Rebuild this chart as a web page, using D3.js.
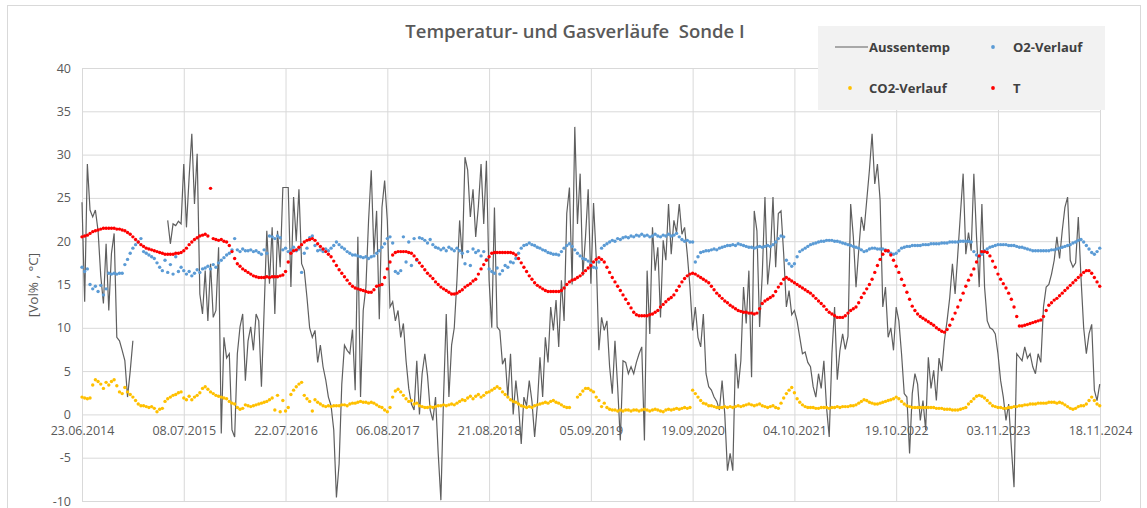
<!DOCTYPE html>
<html>
<head>
<meta charset="utf-8">
<script src="https://cdn.jsdelivr.net/npm/d3@7"></script>
<style>
body { margin: 0; background: #fff; }
text { font-family: "Open Sans", "Noto Sans", sans-serif; }
</style>
</head>
<body>
<svg width="1147" height="508"></svg>
<script>
// readings every 10 days from the first label date
var startLabel = "23.06.2014";
var stepDays = 10;

var tickLabels = ["23.06.2014", "08.07.2015", "22.07.2016", "06.08.2017", "21.08.2018", "05.09.2019",
    "19.09.2020", "04.10.2021", "19.10.2022", "03.11.2023", "18.11.2024"];
var yTicks = [-10, -5, 0, 5, 10, 15, 20, 25, 30, 35, 40];

var aussentemp = [
    24.5, 13.0, 28.9, 23.6, 22.8, 23.6, 21.2, 16.0, 12.8, 19.7, 12.0, 18.6, 20.9, 8.9, 8.5, 7.4, 6.2, 2.0, 5.0, 8.5,
    null, null, null, null, null, null, null, null, null, null, null, null, 22.4, 19.7, 22.0, 21.8, 22.3, 22.0,
    28.9, 21.6, 27.4, 32.4, 24.3, 30.1, 13.9, 11.6, 16.6, 10.8, 17.4, 11.2, 12.0, 19.3, -2.2, 8.9, 6.5, 7.0, -1.8,
    -2.6, 7.0, 10.1, 11.6, 3.9, 8.5, 10.1, 7.4, 11.6, 10.8, 3.2, 12.0, 21.2, 15.1, 21.6, 11.6, 21.2, 17.0, 26.2,
    26.2, 26.2, 14.7, 25.1, 20.0, 26.0, 17.4, 16.6, 13.5, 10.0, 8.9, 9.7, 6.0, 8.0, 5.5, 4.0, 2.0, 1.0, -1.8,
    -9.6, -5.7, 3.5, 8.0, 7.4, 7.0, 9.8, 2.8, 20.5, 2.0, 12.0, 14.7, 22.4, 28.2, 18.5, 23.5, 11.0, 23.9, 27.0,
    22.4, 12.4, 13.0, 10.8, 12.0, 8.9, 10.5, 6.2, 3.0, 1.2, 0.5, 6.2, 0.0, 4.7, 7.0, 4.5, 0.5, -0.7, 2.0,
    -4.5, -9.9, 2.0, 11.6, 2.0, 8.0, 10.0, 15.5, 22.4, 18.0, 29.7, 28.2, 22.8, 26.0, 20.5, 24.0, 28.9, 22.0, 29.3,
    15.5, 10.0, 23.9, 10.1, 9.7, 5.8, 6.5, 2.0, 7.0, 0.0, 3.9, 1.0, -3.4, 2.0, 1.0, 3.9, 1.5, -2.6, 1.0,
    6.6, 2.0, 8.9, 6.0, 12.4, 9.7, 13.2, 7.8, 15.5, 10.8, 23.2, 26.2, 15.0, 33.2, 22.0, 27.8, 16.0, 20.5, 26.0,
    15.1, 24.4, 18.1, 7.4, 11.2, 9.7, 10.8, 5.5, 2.4, 8.5, 3.2, -3.0, 6.2, 6.0, 4.7, 5.5, 4.7, 6.0, 7.0,
    7.8, -3.0, 16.6, 9.3, 21.6, 16.6, 19.3, 11.2, 20.1, 17.8, 24.3, 18.5, 22.4, 21.0, 24.3, 20.8, 21.6, 18.5, 14.7,
    9.7, 12.4, 8.9, 7.8, 11.6, 4.7, 3.2, 2.8, 2.0, 1.5, 0.5, 3.9, 0.0, -6.5, -4.5, -6.5, 7.0, 3.0, 6.2,
    14.7, 10.5, 16.6, 4.3, 23.5, 21.2, 10.1, 16.2, 25.1, 15.0, 18.2, 25.1, 17.0, 23.2, 23.5, 18.5, 12.4, 14.3, 11.5,
    12.0, 10.8, 8.9, 7.0, 7.2, 6.0, 5.5, 3.2, 2.0, 4.7, 3.0, 6.2, 0.8, -2.6, 7.0, 12.4, 4.0, 7.4, 9.3,
    7.5, 9.0, 24.3, 20.5, 14.7, 18.9, 22.8, 21.2, 24.7, 28.2, 32.4, 26.6, 28.9, 24.7, 12.4, 14.7, 8.9, 10.0, 7.4,
    12.4, 10.8, 7.0, 2.4, 2.0, -4.5, 2.4, 4.7, 3.5, -0.7, 1.6, -1.8, 6.6, 3.0, 5.1, 1.6, 6.5, 5.0, 8.5,
    10.8, 13.5, 17.4, 13.9, 18.5, 23.2, 27.8, 18.5, 21.0, 18.9, 27.8, 20.5, 14.7, 24.3, 14.7, 10.8, 10.0, 9.8, 9.3,
    7.0, 3.9, 2.0, -0.7, 1.2, -3.8, -8.4, 7.0, 6.6, 6.2, 7.8, 6.5, 7.0, 5.5, 4.7, 7.0, 6.0, 12.4, 14.7, 15.0,
    16.2, 17.8, 20.5, 18.0, 21.2, 23.9, 25.1, 17.8, 17.0, 17.5, 22.8, 15.8, 10.0, 7.0, 9.3, 10.4, 2.8, 1.6, 3.5
];

var o2 = [
    17.0, 16.5, 16.8, 15.0, 14.5, 14.8, 14.2, 14.9, 13.8, 14.5, 16.3, 16.2, 16.3, 16.2, 16.3, 16.3, 17.3, 17.9, 18.6,
    19.2, 19.6, 19.9, 20.3, 18.8, 18.6, 18.4, 18.2, 18.0, 17.5, 17.0, 16.6, 17.8, 16.4, 17.3, 16.2, 18.2, 16.5, 17.0,
    16.6, 16.2, 16.5, 16.0, 16.3, 16.7, 16.4, 16.8, 16.9, 17.1, 16.8, 17.3, 17.0, 17.5, 17.8, 18.1, 18.4, 18.6, 19.0,
    20.3, 19.0, 18.8, 19.1, 18.9, 18.9, 19.0, 18.8, 18.9, 18.7, 18.5, 19.0, 18.6, 20.6, 20.5, 20.3, 20.6, 20.4, 19.0,
    19.2, 18.8, 19.0, 19.3, 18.9, 19.1, 16.4, 18.6, 19.2, 20.4, 20.6, 19.5, 18.9, 19.0, 18.8, 19.1, 18.9, 19.2, 19.5,
    19.9, 19.6, 19.3, 19.1, 18.8, 18.6, 18.4, 18.4, 18.3, 18.2, 18.1, 18.2, 18.0, 18.2, 18.3, 18.6, 18.9, 19.3, 19.7,
    20.3, 20.5, 19.8, 16.5, 16.3, 16.6, 20.5, 17.6, 19.9, 17.2, 20.3, 17.8, 20.4, 20.3, 20.1, 19.8, 20.2, 19.6, 19.3,
    19.2, 19.0, 19.2, 18.9, 19.3, 19.1, 18.9, 19.2, 18.9, 18.6, 17.4, 18.8, 17.2, 19.1, 18.7, 18.9, 18.3, 18.8, 17.9,
    16.8, 16.5, 16.3, 16.9, 16.2, 16.6, 17.2, 17.0, 17.6, 17.5, 18.0, 18.6, 19.2, 19.5, 19.6, 19.8, 19.6, 19.5, 19.3,
    19.2, 19.0, 18.9, 18.7, 18.6, 18.5, 18.5, 18.4, 18.8, 19.2, 19.5, 19.7, 19.4, 19.0, 18.6, 18.3, 18.0, 17.9, 17.7,
    17.4, 17.0, 16.9, 17.6, 19.2, 19.5, 19.7, 19.9, 20.1, 20.0, 20.3, 20.2, 20.4, 20.5, 20.4, 20.6, 20.5, 20.7, 20.6,
    20.8, 20.6, 20.7, 20.5, 20.6, 20.8, 20.6, 20.5, 20.7, 20.6, 20.8, 20.6, 20.7, 20.9, 20.5, 20.2, 20.0, 20.1, 19.9,
    19.9, 17.6, 18.2, 18.7, 18.8, 18.9, 18.9, 19.0, 19.1, 19.0, 19.2, 19.3, 19.4, 19.5, 19.5, 19.6, 19.5, 19.7, 19.6,
    19.5, 19.4, 19.3, 19.3, 19.2, 19.3, 19.4, 19.3, 19.4, 19.5, 19.4, 19.6, 19.9, 20.3, 20.6, 20.5, 17.8, 17.4, 17.1,
    17.4, 18.2, 18.8, 19.0, 19.2, 19.4, 19.6, 19.7, 19.8, 19.9, 20.0, 20.0, 20.1, 20.1, 20.1, 20.0, 20.0, 19.9, 19.8,
    19.7, 19.6, 19.5, 19.4, 19.3, 19.2, 19.0, 18.8, 18.9, 19.1, 19.2, 19.2, 19.1, 19.1, 19.1, 19.0, 18.8, 18.6, 18.5,
    18.6, 18.9, 19.2, 19.3, 19.4, 19.4, 19.5, 19.5, 19.5, 19.5, 19.6, 19.6, 19.6, 19.7, 19.7, 19.7, 19.7, 19.8, 19.8,
    19.8, 19.9, 19.9, 19.9, 19.9, 20.0, 20.0, 20.0, 20.0, 19.9, 18.8, 18.4, 18.2, 18.5, 18.9, 19.1, 19.3, 19.4, 19.5,
    19.6, 19.6, 19.6, 19.6, 19.5, 19.5, 19.5, 19.4, 19.3, 19.3, 19.2, 19.1, 19.0, 18.9, 18.9, 18.9, 18.9, 18.9, 18.9, 18.9,
    19.0, 19.0, 19.1, 19.2, 19.3, 19.4, 19.5, 19.6, 19.8, 19.9, 20.1, 20.2, 19.9, 19.5, 19.1, 18.7, 18.5, 18.8, 19.2
];

var co2 = [
    2.0, 1.9, 1.8, 1.9, 3.4, 4.0, 3.8, 3.5, 3.0, 3.7, 3.4, 3.8, 4.0, 3.3, 2.6, 2.4, 3.1, 2.6, 2.3,
    2.0, 1.6, 1.2, 1.0, 1.0, 0.9, 0.8, 0.9, 0.7, 0.3, 0.6, 0.7, 1.5, 1.8, 2.0, 2.2, 2.3, 2.5, 2.6,
    1.9, 1.7, 2.1, 1.7, 2.0, 2.2, 2.5, 3.0, 3.2, 2.9, 2.6, 2.4, 2.2, 2.1, 2.0, 1.9, 1.8, 1.5, 1.3,
    1.2, 0.8, 0.6, 0.7, 1.1, 1.0, 0.9, 1.0, 1.1, 1.2, 1.3, 1.4, 1.5, 1.7, 1.9, 0.5, 2.2, 0.3, 1.6,
    0.4, 0.8, 2.3, 2.8, 3.2, 3.5, 3.7, 2.2, 1.8, 1.5, 0.4, 1.7, 1.4, 1.2, 1.0, 0.9, 1.0, 0.9, 1.0,
    1.0, 1.0, 1.1, 1.1, 1.0, 1.2, 1.3, 1.3, 1.4, 1.5, 1.4, 1.4, 1.3, 1.4, 1.3, 1.1, 0.9, 0.8, 0.5,
    0.3, 0.8, 2.0, 2.7, 2.9, 2.6, 2.2, 1.8, 1.5, 1.6, 1.2, 1.3, 1.0, 0.9, 0.8, 0.8, 0.9, 0.8, 0.9,
    1.0, 1.0, 1.1, 1.0, 1.1, 1.2, 1.1, 1.3, 1.5, 1.7, 1.6, 1.9, 2.1, 1.8, 2.1, 2.3, 2.0, 2.2, 2.5,
    2.6, 2.8, 3.0, 3.2, 3.0, 2.6, 2.3, 2.0, 1.7, 1.5, 1.4, 1.2, 1.0, 0.9, 0.8, 0.9, 0.8, 1.0, 1.1,
    1.2, 1.3, 1.4, 1.3, 1.5, 1.6, 1.4, 1.3, 1.1, 0.9, 0.8, 0.8, null, null, 2.0, 2.3, 2.7, 3.0, 3.0,
    2.8, 2.6, 2.0, 1.6, 0.9, 1.3, 0.8, 0.6, 0.5, 0.5, 0.4, 0.5, 0.4, 0.5, 0.5, 0.4, 0.5, 0.5, 0.4,
    0.5, 0.6, 0.5, 0.4, 0.5, 0.6, 0.5, 0.4, 0.3, 0.5, 0.6, 0.5, 0.6, 0.7, 0.6, 0.7, 0.8, 0.7, 0.8,
    2.8, 2.4, 2.0, 1.6, 1.3, 1.2, 1.0, 1.0, 0.9, 0.8, 0.8, 0.8, 0.9, 0.8, 0.9, 0.8, 0.9, 1.0, 0.9,
    1.0, 1.1, 1.2, 1.1, 1.0, 1.1, 1.2, 1.0, 0.9, 0.8, 0.9, 1.0, 0.8, 0.7, 1.3, 1.9, 2.4, 2.8, 3.1,
    2.5, 1.8, 1.4, 1.1, 0.9, 0.8, 0.8, 0.8, 0.7, 0.7, 0.8, 0.8, 0.8, 0.7, 0.8, 0.8, 0.9, 0.8, 0.9,
    0.9, 0.9, 1.0, 1.0, 1.1, 1.3, 1.5, 1.7, 1.6, 1.4, 1.3, 1.2, 1.2, 1.3, 1.4, 1.5, 1.6, 1.7, 1.8,
    2.0, 1.8, 1.5, 1.2, 1.0, 0.9, 0.8, 0.8, 0.8, 0.8, 0.8, 0.8, 0.8, 0.8, 0.8, 0.7, 0.7, 0.7, 0.6,
    0.6, 0.6, 0.5, 0.5, 0.5, 0.6, 0.7, 0.8, 1.2, 1.5, 1.8, 2.1, 2.2, 2.1, 1.9, 1.6, 1.3, 1.0, 0.9,
    0.8, 0.8, 0.7, 0.7, 0.8, 0.8, 0.9, 0.9, 1.0, 1.0, 1.1, 1.1, 1.2, 1.2, 1.2, 1.3, 1.3, 1.3, 1.3, 1.4,
    1.4, 1.4, 1.3, 1.4, 1.3, 1.1, 0.9, 0.7, 0.6, 0.7, 0.9, 1.0, 1.0, 1.2, 1.6, 2.0, 1.6, 1.2, 1.0
];

var temp = [
    20.5, 20.6, 20.7, 20.9, 21.1, 21.2, 21.3, 21.4, 21.5, 21.5, 21.5, 21.5, 21.5, 21.4, 21.4, 21.3, 21.2, 21.0, 20.8,
    20.5, 20.2, 19.9, 19.6, 19.4, 19.2, 19.1, 19.0, 18.9, 18.8, 18.7, 18.6, 18.5, 18.5, 18.5, 18.5, 18.6, 18.6, 18.7,
    18.9, 19.2, 19.6, 19.9, 20.2, 20.4, 20.6, 20.7, 20.8, 20.6, 26.1, 20.3, 20.2, 20.1, 20.2, 20.0, 19.9, 19.5, 18.8,
    18.0, 17.4, 17.1, 16.8, 16.6, 16.4, 16.2, 16.0, 15.9, 15.8, 15.8, 15.8, 15.9, 15.8, 15.9, 15.9, 15.9, 16.0, 16.1,
    16.5, 17.6, 18.6, 18.9, 19.0, 19.3, 19.6, 19.9, 20.1, 20.2, 20.3, 20.1, 19.7, 19.4, 19.1, 18.8, 18.5, 18.2, 17.7,
    17.2, 16.7, 16.3, 15.9, 15.5, 15.1, 14.8, 14.6, 14.5, 14.4, 14.3, 14.2, 14.1, 14.1, 14.4, 14.8, 14.9, 15.0, 15.8,
    16.8, 17.6, 18.4, 18.7, 18.8, 18.8, 18.8, 18.8, 18.7, 18.6, 18.3, 17.9, 17.5, 17.1, 16.7, 16.3, 16.0, 15.7, 15.3,
    15.0, 14.7, 14.5, 14.3, 14.1, 13.9, 13.9, 14.0, 14.2, 14.4, 14.7, 14.9, 15.1, 15.4, 15.6, 16.2, 16.8, 17.3, 17.8,
    18.2, 18.6, 18.7, 18.7, 18.7, 18.7, 18.7, 18.7, 18.7, 18.6, 18.4, 18.0, 17.5, 17.0, 16.5, 16.0, 15.6, 15.2, 14.9,
    14.7, 14.5, 14.3, 14.2, 14.2, 14.2, 14.2, 14.2, 14.3, 14.6, 15.0, 15.3, 15.5, 15.6, 15.8, 16.0, 16.3, 16.6, 16.9,
    17.2, 17.6, 17.9, 18.1, 17.9, 17.6, 17.0, 16.4, 15.8, 15.3, 14.8, 14.3, 13.8, 13.3, 12.8, 12.3, 11.8, 11.5, 11.4,
    11.4, 11.4, 11.4, 11.5, 11.6, 11.8, 12.0, 12.4, 12.7, 13.0, 13.3, 13.5, 13.8, 14.3, 14.8, 15.3, 15.7, 16.0, 16.2,
    16.3, 16.2, 16.0, 15.8, 15.6, 15.4, 15.2, 14.8, 14.4, 14.0, 13.7, 13.4, 13.1, 12.9, 12.6, 12.4, 12.2, 12.0, 11.9,
    11.8, 11.8, 11.7, 11.7, 11.6, 11.7, 12.2, 12.8, 13.1, 13.3, 13.5, 13.7, 14.2, 14.7, 15.1, 15.6, 15.8, 15.6, 15.4,
    15.2, 15.0, 14.8, 14.6, 14.4, 14.2, 14.0, 13.7, 13.4, 13.1, 12.8, 12.5, 12.1, 11.8, 11.6, 11.4, 11.2, 11.2, 11.2,
    11.4, 11.7, 12.0, 12.2, 12.4, 12.9, 13.5, 14.0, 14.5, 15.0, 15.6, 16.4, 17.2, 17.9, 18.5, 18.9, 18.9, 18.4, 17.8,
    17.1, 16.4, 15.6, 14.9, 14.1, 13.3, 12.5, 12.0, 11.6, 11.3, 11.1, 10.9, 10.7, 10.5, 10.3, 10.0, 9.8, 9.6, 9.5,
    9.8, 10.3, 11.0, 11.7, 12.4, 13.2, 14.0, 14.8, 15.5, 16.1, 16.8, 17.6, 18.3, 18.8, 18.8, 18.7, 18.3, 17.7, 17.0,
    16.2, 15.6, 15.1, 14.6, 14.0, 13.3, 12.4, 11.3, 10.2, 10.2, 10.3, 10.4, 10.5, 10.6, 10.7, 10.8, 10.9, 11.3, 12.0, 12.6,
    12.9, 13.2, 13.4, 13.7, 14.0, 14.3, 14.6, 14.9, 15.2, 15.5, 15.8, 16.1, 16.4, 16.6, 16.6, 16.3, 15.8, 15.3, 14.8
];

var svg = d3.select("svg"),
    margin = {top: 68, right: 47, bottom: 7, left: 82},
    width = +svg.attr("width") - (margin.left + margin.right),
    height = +svg.attr("height") - (margin.top + margin.bottom);

var parseDate = d3.timeParse("%d.%m.%Y"),
    formatDate = d3.timeFormat("%d.%m.%Y"),
    start = parseDate(startLabel),
    tickDates = tickLabels.map(parseDate);

function toPoints(values) {
    return values.map(function(v, i) { return {date: d3.timeDay.offset(start, i * stepDays), value: v}; });
}

var x = d3.scaleTime().domain([tickDates[0], tickDates[tickDates.length - 1]]).range([0, width]),
    y = d3.scaleLinear().domain([-10, 40]).range([height, 0]);

// chart frame
svg.append("rect")
    .attr("x", 7.5).attr("y", 5.5)
    .attr("width", 1133).attr("height", 510)
    .attr("fill", "#fff")
    .attr("stroke", "#d9d9d9");

svg.append("text")
    .attr("x", 575).attr("y", 38)
    .attr("text-anchor", "middle")
    .style("white-space", "pre")
    .attr("font-size", 18.5)
    .attr("font-weight", 600)
    .attr("fill", "#595959")
    .text("Temperatur- und Gasverläufe  Sonde I");

var g = svg.append("g").attr("transform", "translate(" + margin.left + "," + margin.top + ")");

g.append("g")
    .attr("class", "grid-x")
    .attr("transform", "translate(0," + height + ")")
    .call(d3.axisBottom(x).tickValues(tickDates).tickSize(-height).tickFormat(""))
    .call(function(a) { a.select(".domain").remove(); })
    .selectAll("line").attr("stroke", "#d9d9d9");

g.append("g")
    .attr("class", "axis-y")
    .call(d3.axisLeft(y).tickValues(yTicks).tickSize(-width).tickPadding(11).tickFormat(function(d) { return String(d); }))
    .call(function(a) { a.select(".domain").remove(); })
    .call(function(a) { a.selectAll("line").attr("stroke", "#d9d9d9"); })
    .selectAll("text")
    .attr("font-size", 12.5)
    .attr("font-family", "'Open Sans', 'Noto Sans', sans-serif")
    .attr("fill", "#595959");

g.append("g")
    .attr("class", "axis-x")
    .attr("transform", "translate(0," + y(0) + ")")
    .call(d3.axisBottom(x).tickValues(tickDates).tickSize(0).tickPadding(12).tickFormat(formatDate))
    .call(function(a) { a.select(".domain").remove(); })
    .selectAll("text")
    .attr("font-size", 12.5)
    .attr("font-family", "'Open Sans', 'Noto Sans', sans-serif")
    .attr("fill", "#595959");

svg.append("text")
    .attr("transform", "translate(38,285) rotate(-90)")
    .attr("text-anchor", "middle")
    .attr("font-size", 13.5)
    .attr("fill", "#595959")
    .text("[Vol% , °C]");

var line = d3.line()
    .defined(function(d) { return d.value != null; })
    .x(function(d) { return x(d.date); })
    .y(function(d) { return y(d.value); });

g.append("path")
    .datum(toPoints(aussentemp))
    .attr("fill", "none")
    .attr("stroke", "#5f5f5f")
    .attr("stroke-width", 1.2)
    .attr("d", line);

function drawDots(values, colour, cls) {
    g.selectAll("." + cls)
        .data(toPoints(values).filter(function(d) { return d.value != null; }))
        .enter().append("circle")
        .attr("class", cls)
        .attr("cx", function(d) { return x(d.date); })
        .attr("cy", function(d) { return y(d.value); })
        .attr("r", 1.7)
        .style("fill", colour);
}

drawDots(o2, "#5b9bd5", "o2");
drawDots(co2, "#ffc000", "co2");
drawDots(temp, "#ff0000", "temp");

// legend
var legend = svg.append("g").attr("transform", "translate(818,26)");

legend.append("rect")
    .attr("width", 287).attr("height", 84)
    .attr("fill", "#f2f2f2");

legend.append("line")
    .attr("x1", 17).attr("y1", 21).attr("x2", 50).attr("y2", 21)
    .attr("stroke", "#5f5f5f").attr("stroke-width", 1.2);

var legendItems = [
    {label: "Aussentemp", tx: 51, ty: 26, mx: null, colour: null},
    {label: "O2-Verlauf", tx: 195, ty: 26, mx: 175, colour: "#5b9bd5"},
    {label: "CO2-Verlauf", tx: 51, ty: 67, mx: 32, colour: "#ffc000"},
    {label: "T", tx: 195, ty: 67, mx: 175, colour: "#ff0000"}
];

legendItems.forEach(function(d) {
    if (d.mx != null) {
        legend.append("circle")
            .attr("cx", d.mx).attr("cy", d.ty - 5)
            .attr("r", 1.9)
            .style("fill", d.colour);
    }
    legend.append("text")
        .attr("x", d.tx).attr("y", d.ty)
        .attr("font-size", 13)
        .attr("font-weight", "bold")
        .attr("fill", "#404040")
        .text(d.label);
});
</script>
</body>
</html>
